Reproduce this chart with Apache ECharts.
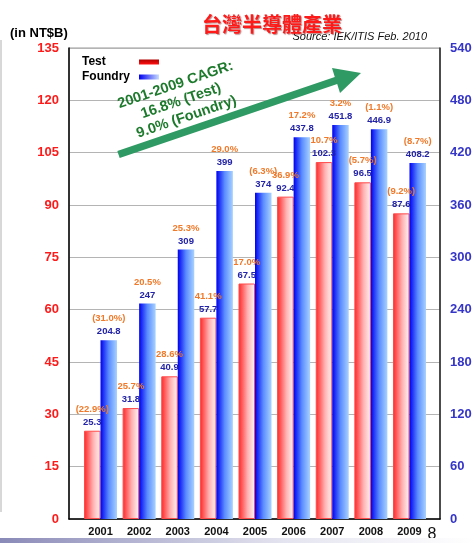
<!DOCTYPE html>
<html>
<head>
<meta charset="utf-8">
<script src="https://cdn.jsdelivr.net/npm/echarts@6/dist/echarts.min.js"></script>
<style>html,body{margin:0;padding:0;background:#fff}#c{width:475px;height:543px}</style>
</head>
<body>
<div id="c"></div>
<script>
var years = ['2001','2002','2003','2004','2005','2006','2007','2008','2009'];
var testValues = [25.3, 31.8, 40.9, 57.7, 67.5, 92.4, 102.3, 96.5, 87.6];
var testGrowth = ['(22.9%)','25.7%','28.6%','41.1%','17.0%','36.9%','10.7%','(5.7%)','(9.2%)'];
var foundryValues = [204.8, 247, 309, 399, 374, 437.8, 451.8, 446.9, 408.2];
var foundryGrowth = ['(31.0%)','20.5%','25.3%','29.0%','(6.3%)','17.2%','3.2%','(1.1%)','(8.7%)'];
var leftTicks = {min: 0, max: 135, interval: 15};
var rightTicks = {min: 0, max: 540, interval: 60};

var chart = echarts.init(document.getElementById('c'));
var FONT = 'Liberation Sans, Arial, sans-serif';

function lbl(growth, values) {
  return {
    show: true,
    position: 'top',
    distance: 2,
    formatter: function (p) { return '{p|' + growth[p.dataIndex] + '}\n{v|' + values[p.dataIndex] + '}'; },
    rich: {
      p: {color: '#f07a2a', fontSize: 9.5, fontWeight: 'bold', fontFamily: FONT, lineHeight: 13},
      v: {color: '#2323a8', fontSize: 9.5, fontWeight: 'bold', fontFamily: FONT, lineHeight: 13}
    }
  };
}

var option = {
  animation: false,
  title: {
    text: '台灣半導體產業',
    left: 267, top: 9, textAlign: 'center',
    textStyle: {
      color: '#ff1a1a', fontSize: 20, fontWeight: 'bold',
      fontFamily: 'Noto Sans CJK TC',
      textShadowColor: 'rgba(110,0,0,0.45)', textShadowOffsetX: 1, textShadowOffsetY: 1, textShadowBlur: 1
    }
  },
  legend: {
    orient: 'vertical', left: 77, top: 50,
    align: 'right', icon: 'rect', itemWidth: 20, itemHeight: 5, itemGap: 1, itemTextGap: 5,
    data: [
      {name: 'Test', itemStyle: {color: new echarts.graphic.LinearGradient(0, 0, 0, 1, [
        {offset: 0, color: '#b00000'}, {offset: 1, color: '#ff1010'}]), borderWidth: 0}},
      {name: 'Foundry', itemStyle: {color: new echarts.graphic.LinearGradient(0, 0, 1, 0, [
        {offset: 0, color: '#0000f0'}, {offset: 1, color: '#c8dcff'}])}}
    ],
    formatter: function (name) { return '{a|' + name + '}'; },
    textStyle: {
      color: '#000', fontSize: 12, fontWeight: 'bold', fontFamily: FONT, lineHeight: 14,
      rich: {a: {width: 52, align: 'left', color: '#000', fontSize: 12, fontWeight: 'bold', fontFamily: FONT, lineHeight: 14}}
    }
  },
  grid: [
    {left: 69, right: 35, top: 48, bottom: 24, show: true, borderColor: '#999', borderWidth: 1},
    {left: 81.2, right: 46.2, top: 48, bottom: 24}
  ],
  xAxis: [
    {gridIndex: 0, type: 'value', min: 0, max: 1, axisLine: {show: true, lineStyle: {color: '#000', width: 1.5}},
      axisTick: {show: false}, axisLabel: {show: false}, splitLine: {show: false}},
    {gridIndex: 1, type: 'category', data: years, axisLine: {show: false}, axisTick: {show: false},
      axisLabel: {color: '#111', fontSize: 11, fontWeight: 'bold', fontFamily: FONT, margin: 7}}
  ],
  yAxis: [
    {gridIndex: 0, type: 'value', position: 'left', min: leftTicks.min, max: leftTicks.max, interval: leftTicks.interval,
      axisLine: {show: true, lineStyle: {color: '#000', width: 1.5}}, axisTick: {show: false},
      axisLabel: {color: '#ff1a1a', fontSize: 13, fontWeight: 'bold', fontFamily: FONT, margin: 10},
      splitLine: {show: true, lineStyle: {color: '#b4b4b4', width: 1}}},
    {gridIndex: 0, type: 'value', position: 'right', min: rightTicks.min, max: rightTicks.max, interval: rightTicks.interval,
      axisLine: {show: true, lineStyle: {color: '#222', width: 1.5}}, axisTick: {show: false},
      axisLabel: {color: '#3535c8', fontSize: 13, fontWeight: 'bold', fontFamily: FONT, margin: 10},
      splitLine: {show: false}},
    {gridIndex: 1, type: 'value', min: leftTicks.min, max: leftTicks.max, show: false},
    {gridIndex: 1, type: 'value', min: rightTicks.min, max: rightTicks.max, show: false}
  ],
  series: [
    {
      name: 'Test', type: 'bar', xAxisIndex: 1, yAxisIndex: 2, data: testValues,
      barWidth: 16.5, barGap: '0%',
      itemStyle: {
        color: new echarts.graphic.LinearGradient(0, 0, 1, 0, [
          {offset: 0, color: '#ff2424'}, {offset: 0.55, color: '#ffb0b0'}, {offset: 1, color: '#fff6f6'}
        ]),
        borderColor: '#ff4a4a', borderWidth: 1
      },
      label: lbl(testGrowth, testValues)
    },
    {
      name: 'Foundry', type: 'bar', xAxisIndex: 1, yAxisIndex: 3, data: foundryValues,
      barWidth: 16.5, barGap: '0%',
      itemStyle: {
        color: new echarts.graphic.LinearGradient(0, 0, 1, 0, [
          {offset: 0, color: '#0000f0'}, {offset: 0.5, color: '#5a8cff'}, {offset: 1, color: '#a8d2ff'}
        ])
      },
      label: lbl(foundryGrowth, foundryValues)
    }
  ],
  graphic: [
    {type: 'text', left: 10, top: 27, style: {text: '(in NT$B)', fill: '#000', font: 'bold 13px ' + FONT}},
    {type: 'text', right: 48, top: 31, style: {text: 'Source: IEK/ITIS Feb. 2010', fill: '#111', font: 'italic 11px ' + FONT}},
    {type: 'polygon', z: 50, shape: {points: [[117.3,150.9],[334.8,76.9],[332,68],[361,73],[340,93],[337.2,84.1],[119.7,158.1]]},
      style: {fill: '#2f9a63'}},
    {type: 'text', z: 51, x: 181, y: 101, rotation: 0.33,
      style: {text: '2001-2009 CAGR:\n16.8% (Test)\n9.0% (Foundry)', fill: '#1d7a2c', font: 'bold 14.5px ' + FONT,
        align: 'center', verticalAlign: 'middle', lineHeight: 17}},
    {type: 'text', x: 432, y: 535, style: {text: '8', fill: '#111', font: '16px ' + FONT, align: 'center', verticalAlign: 'middle'}},
    {type: 'line', shape: {x1: 1, y1: 40, x2: 1, y2: 512}, style: {stroke: '#b0b0b0', lineWidth: 1}},
    {type: 'rect', shape: {x: 0, y: 538, width: 475, height: 5},
      style: {fill: new echarts.graphic.LinearGradient(0, 0, 1, 0, [
        {offset: 0, color: '#8a8ab8'}, {offset: 0.6, color: '#e4e4f0'}, {offset: 1, color: '#ffffff'}])}}
  ]
};
chart.setOption(option);
</script>
</body>
</html>
